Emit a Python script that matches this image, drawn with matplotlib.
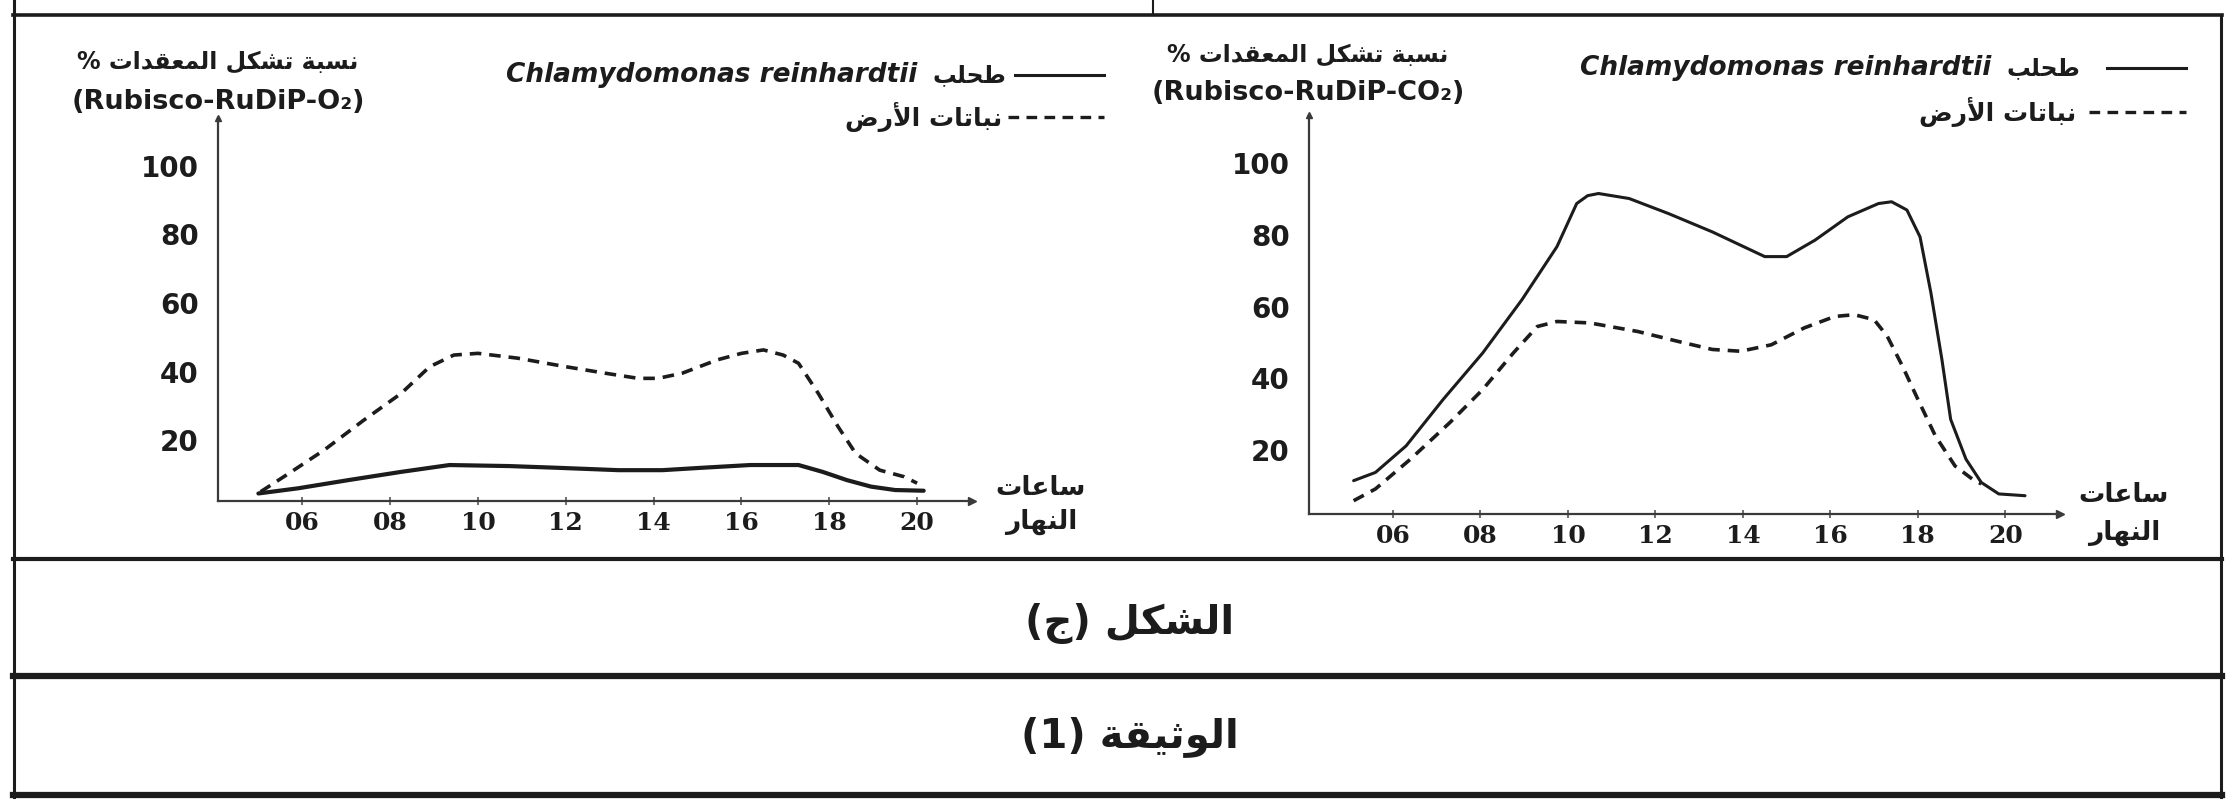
import matplotlib
matplotlib.use("Agg")
import matplotlib.pyplot as plt
from matplotlib.lines import Line2D

o2_algae_hours = [5.0, 5.9, 7.05, 8.25, 9.35, 10.7, 11.8, 13.2, 14.2, 15.1, 16.2, 17.3, 17.85, 18.4, 18.95, 19.5, 20.15]
o2_algae = [4.4, 5.9, 8.3, 10.7, 12.7, 12.4, 11.9, 11.2, 11.2, 11.9, 12.7, 12.7, 10.7, 8.3, 6.4, 5.4, 5.2]
o2_plants_hours = [5.05, 5.7, 6.5, 7.4, 8.25, 8.9, 9.45, 10.0, 10.9, 12.0, 12.9, 13.65, 14.1, 14.65, 15.45, 16.0,
                   16.5, 16.95, 17.3, 17.75, 18.2, 18.6, 19.15, 19.7, 20.0]
o2_plants = [4.9, 10.3, 17.1, 25.8, 33.6, 41.4, 44.8, 45.3, 43.9, 41.4, 39.5, 38.0, 38.0, 39.5, 43.4, 45.3,
             46.3, 44.8, 42.4, 33.6, 23.9, 16.1, 11.2, 9.3, 7.4]

co2_algae_hours = [5.1, 5.6, 6.3, 7.15, 8.05, 8.95, 9.75, 10.2, 10.45, 10.7, 11.4, 12.3, 13.3, 14.1, 14.5, 15.0, 15.65,
                   16.4, 17.1, 17.4, 17.75, 18.05, 18.3, 18.55, 18.75, 19.1, 19.45, 19.85, 20.45]
co2_algae = [11.5, 13.8, 21.2, 34.2, 47.1, 62.0, 76.8, 88.8, 91.0, 91.6, 90.2, 86.0, 80.9, 76.3, 74.0, 74.0, 78.6,
             85.1, 88.8, 89.3, 87.0, 79.5, 63.8, 45.3, 28.6, 17.5, 11.0, 7.8, 7.3]
co2_plants_hours = [5.1, 5.6, 6.4, 7.3, 8.05, 8.75, 9.3, 9.75, 10.5, 11.6, 12.5, 13.3, 13.95, 14.65, 15.4, 16.1,
                    16.55, 17.0, 17.3, 17.65, 18.0, 18.4, 18.85, 19.25, 19.45]
co2_plants = [5.9, 9.2, 17.5, 27.7, 36.9, 47.1, 54.5, 55.9, 55.5, 53.1, 50.4, 48.1, 47.6, 49.4, 54.1, 57.3,
              57.8, 56.4, 51.8, 43.4, 34.2, 24.0, 15.6, 11.9, 10.6]

x_ticks = [6, 8, 10, 12, 14, 16, 18, 20]
x_labels = ["06", "08", "10", "12", "14", "16", "18", "20"]
y_ticks = [20, 40, 60, 80, 100]

# Arabic presentation forms: isolated, final, initial, medial
FORMS = {
    "ا": ("\ufe8d", "\ufe8e", None, None), "أ": ("\ufe83", "\ufe84", None, None),
    "ب": ("\ufe8f", "\ufe90", "\ufe91", "\ufe92"), "ة": ("\ufe93", "\ufe94", None, None),
    "ت": ("\ufe95", "\ufe96", "\ufe97", "\ufe98"), "ث": ("\ufe99", "\ufe9a", "\ufe9b", "\ufe9c"),
    "ج": ("\ufe9d", "\ufe9e", "\ufe9f", "\ufea0"), "ح": ("\ufea1", "\ufea2", "\ufea3", "\ufea4"),
    "د": ("\ufea9", "\ufeaa", None, None), "ر": ("\ufead", "\ufeae", None, None),
    "س": ("\ufeb1", "\ufeb2", "\ufeb3", "\ufeb4"), "ش": ("\ufeb5", "\ufeb6", "\ufeb7", "\ufeb8"),
    "ض": ("\ufebd", "\ufebe", "\ufebf", "\ufec0"), "ط": ("\ufec1", "\ufec2", "\ufec3", "\ufec4"),
    "ع": ("\ufec9", "\ufeca", "\ufecb", "\ufecc"), "ق": ("\ufed5", "\ufed6", "\ufed7", "\ufed8"),
    "ك": ("\ufed9", "\ufeda", "\ufedb", "\ufedc"), "ل": ("\ufedd", "\ufede", "\ufedf", "\ufee0"),
    "م": ("\ufee1", "\ufee2", "\ufee3", "\ufee4"), "ن": ("\ufee5", "\ufee6", "\ufee7", "\ufee8"),
    "ه": ("\ufee9", "\ufeea", "\ufeeb", "\ufeec"), "و": ("\ufeed", "\ufeee", None, None),
    "ي": ("\ufef1", "\ufef2", "\ufef3", "\ufef4"),
}
LAM_ALEF = {"ا": ("\ufefb", "\ufefc"), "أ": ("\ufef7", "\ufef8")}


def shape(s):
    # join the letters and lay the string out right to left
    chars = []
    i = 0
    while i < len(s):
        if s[i] == "ل" and i + 1 < len(s) and s[i + 1] in LAM_ALEF:
            chars.append(("LA", s[i + 1]))
            i += 2
        else:
            chars.append((s[i], None))
            i += 1

    def is_ar(c):
        return c[0] == "LA" or c[0] in FORMS

    def joins_next(c):
        return c[0] in FORMS and FORMS[c[0]][2] is not None

    out = []
    for k, c in enumerate(chars):
        prev = chars[k - 1] if k > 0 else None
        nxt = chars[k + 1] if k + 1 < len(chars) else None
        p = prev is not None and joins_next(prev) and is_ar(c)
        if c[0] == "LA":
            out.append(LAM_ALEF[c[1]][1 if p else 0])
            continue
        if c[0] not in FORMS:
            out.append(c[0])
            continue
        f = FORMS[c[0]]
        n = f[2] is not None and nxt is not None and is_ar(nxt)
        if p and n:
            out.append(f[3])
        elif p:
            out.append(f[1])
        elif n:
            out.append(f[2])
        else:
            out.append(f[0])
    vis = "".join(reversed(out))
    return vis.translate(str.maketrans("()", ")("))


W, H = 2227, 802
fig = plt.figure(figsize=(W / 100, H / 100), dpi=100)
fig.patch.set_facecolor("white")
INK = "#1c1c1c"


def fx(x):
    return x / W


def fy(y):
    return 1 - y / H


def ftext(x, y, s, **kw):
    return fig.text(fx(x), fy(y), s, **kw)


def fline(x0, y0, x1, y1, **kw):
    fig.add_artist(Line2D([fx(x0), fx(x1)], [fy(y0), fy(y1)], transform=fig.transFigure, **kw))


def make_axes(left, right, bottom, top, ylim_top):
    ax = fig.add_axes([fx(left), fy(bottom), fx(right) - fx(left), fy(top) - fy(bottom)])
    ax.set_xlim(4.08, 21.25)
    ax.set_ylim(2.2, ylim_top)
    for sp in ["top", "right"]:
        ax.spines[sp].set_visible(False)
    for sp in ["left", "bottom"]:
        ax.spines[sp].set_color("#3a3a3a")
        ax.spines[sp].set_linewidth(1.6)
    ax.plot(1, 0, ">", color="#3a3a3a", ms=6, transform=ax.transAxes, clip_on=False)
    ax.plot(0, 1, "^", color="#3a3a3a", ms=5, transform=ax.transAxes, clip_on=False)
    ax.set_xticks(x_ticks)
    ax.set_xticklabels(x_labels, family="DejaVu Serif", weight="bold", fontsize=18, color=INK)
    ax.set_yticks(y_ticks)
    ax.set_yticklabels([str(v) for v in y_ticks], family="DejaVu Sans", weight="bold", fontsize=20, color=INK)
    ax.tick_params(axis="x", direction="inout", length=6, width=1.2, color="#555555", pad=4)
    ax.tick_params(axis="y", length=0, pad=14)
    ax.patch.set_alpha(0)
    return ax


# left chart: Rubisco-RuDiP-O2
ax1 = make_axes(218, 972, 501, 118, 114)
ax1.plot(o2_algae_hours, o2_algae, color=INK, lw=3.0, solid_capstyle="round", clip_on=False)
ax1.plot(o2_plants_hours, o2_plants, color=INK, lw=2.6, dashes=(3.2, 2.2), clip_on=False)

# right chart: Rubisco-RuDiP-CO2
ax2 = make_axes(1309, 2060, 514, 115, 113.5)
ax2.plot(co2_algae_hours, co2_algae, color=INK, lw=2.2, solid_capstyle="round", clip_on=False)
ax2.plot(co2_plants_hours, co2_plants, color=INK, lw=2.6, dashes=(3.2, 2.2), clip_on=False)

ar = dict(family="DejaVu Sans", weight="bold", color=INK)
lat = dict(family="DejaVu Sans", weight="bold", color=INK)

# axis titles
for cx, y1, y2, gas in [(218, 62, 102, "O₂"), (1308, 55, 93, "CO₂")]:
    ftext(cx, y1, shape("نسبة تشكل المعقدات %"), ha="center", va="center", fontsize=17, **ar)
    ftext(cx, y2, "(Rubisco-RuDiP-" + gas + ")", ha="center", va="center", fontsize=19.5, **lat)

for cx, y1, y2 in [(1041, 488, 522), (2124, 495, 533)]:
    ftext(cx, y1, shape("ساعات"), ha="center", va="center", fontsize=19, **ar)
    ftext(cx, y2, shape("النهار"), ha="center", va="center", fontsize=19, **ar)

# legends
for xr, ly1, ly2, lx0, lx1, dx0 in [(1006, 75, 117, 1015, 1104, 1008), (2080, 68, 112, 2107, 2186, 2089)]:
    t = ftext(xr, ly1, shape("طحلب"), ha="right", va="center", fontsize=17, **ar)
    plt.annotate("Chlamydomonas reinhardtii", xy=(0, 0.5), xycoords=t, xytext=(-11, 0),
                 textcoords="offset points", ha="right", va="center", fontsize=19, style="italic", **lat)
    fline(lx0, ly1, lx1, ly1, color=INK, lw=2.2)
    ftext(xr - 4, ly2, shape("نباتات الأرض"), ha="right", va="center", fontsize=18, **ar)
    fline(dx0, ly2, lx1, ly2, color=INK, lw=2.4, dashes=(3.2, 2.2))

# captions
ftext(1130, 623, shape("الشكل (ج)"), ha="center", va="center", fontsize=29, **ar)
ftext(1130, 737, shape("الوثيقة (1)"), ha="center", va="center", fontsize=29, **ar)

# frame of the document table
fline(13, 15, 2222, 15, color=INK, lw=2.6)
fline(14, 0, 14, 797, color=INK, lw=2.2)
fline(2221, 15, 2221, 797, color=INK, lw=2.2)
fline(1153, 0, 1153, 15, color=INK, lw=1.5)
fline(13, 559, 2222, 559, color=INK, lw=3.0)
fline(13, 676, 2222, 676, color=INK, lw=4.5)
fline(13, 795, 2222, 795, color=INK, lw=4.5)

fig.savefig("out.png", dpi=100, facecolor="white")
